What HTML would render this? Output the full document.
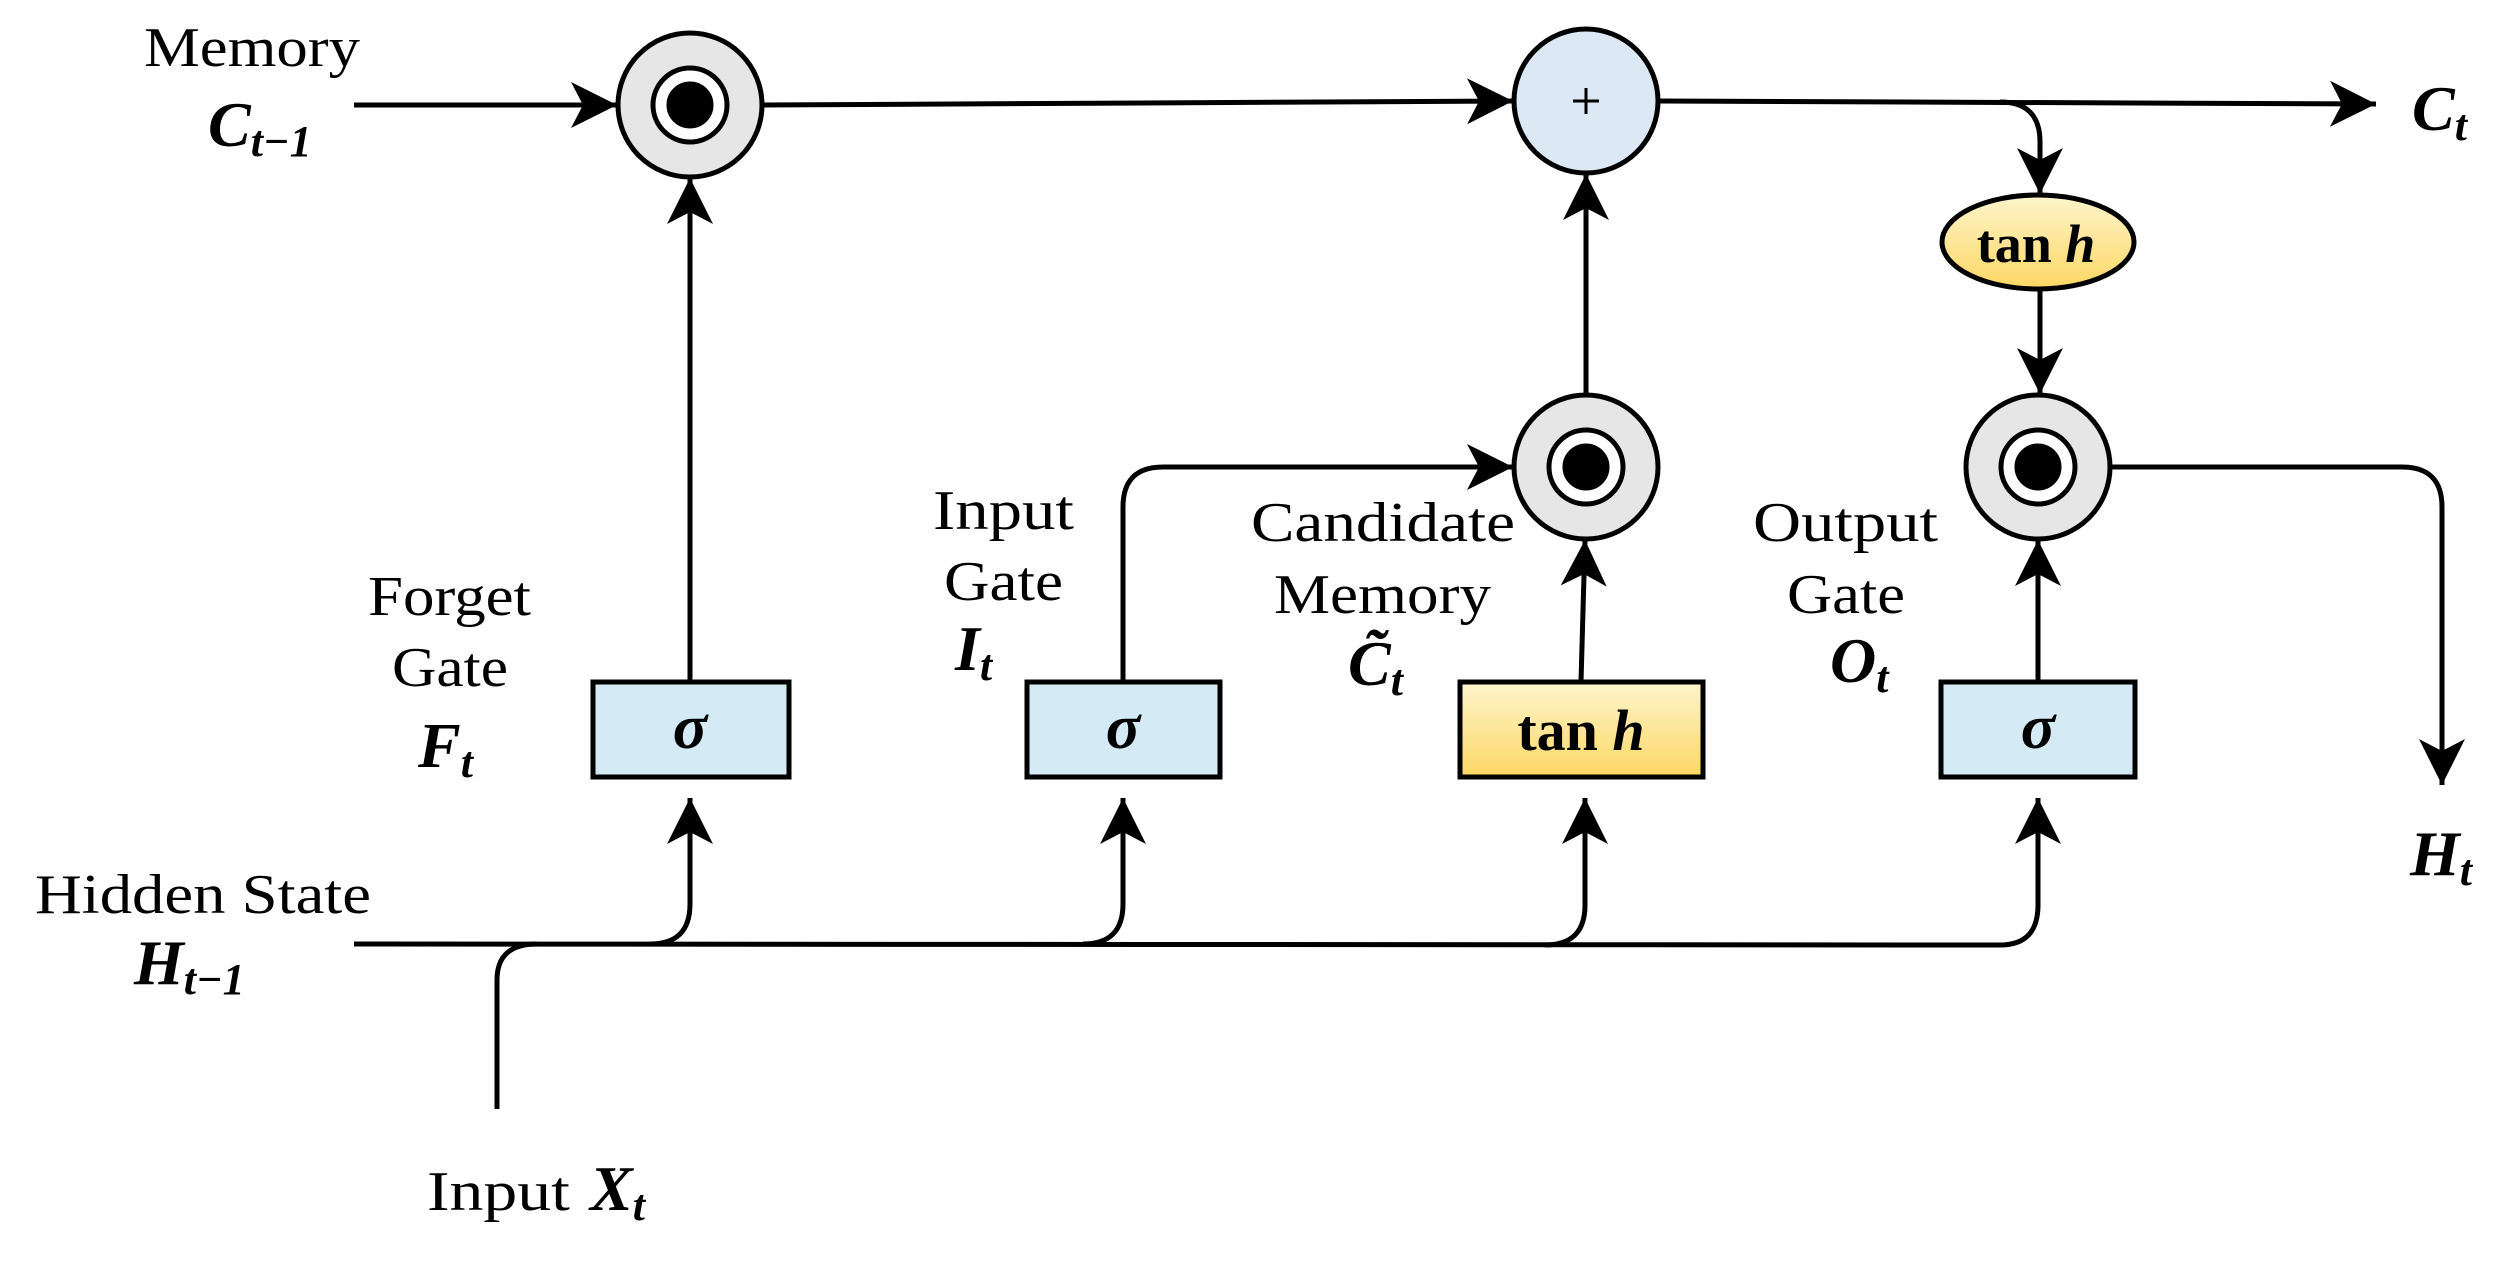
<!DOCTYPE html>
<html><head><meta charset="utf-8"><style>
html,body{margin:0;padding:0;background:#fff;}
svg{display:block;}
text{font-family:"Liberation Serif",serif;fill:#000;}
.lbl{font-size:56px;}
.m{font-size:64px;font-style:italic;font-weight:bold;}
.s{font-size:44px;font-style:italic;font-weight:bold;}
</style></head><body>
<svg width="2506" height="1266" viewBox="0 0 2506 1266" xmlns="http://www.w3.org/2000/svg">
<defs>
<marker id="a" markerUnits="userSpaceOnUse" markerWidth="60" markerHeight="60" viewBox="-50 -30 60 60" refX="0" refY="0" orient="auto">
<path d="M0,0 L-46,-23 L-34,0 L-46,23 Z" fill="#000"/>
</marker>
<linearGradient id="y" x1="0" y1="0" x2="0" y2="1"><stop offset="0" stop-color="#fef5cc"/><stop offset="1" stop-color="#fcd763"/></linearGradient>
</defs>
<g fill="none" stroke="#000" stroke-width="5">
<path d="M354,105 L617,105" marker-end="url(#a)"/>
<path d="M762,105 L1513,101" marker-end="url(#a)"/>
<path d="M1659,101 L2376,104" marker-end="url(#a)"/>
<path d="M2000,102 Q2040,102 2040,142 L2040,194" marker-end="url(#a)"/>
<path d="M2040,290 L2040,394" marker-end="url(#a)"/>
<path d="M690,682 L690,178" marker-end="url(#a)"/>
<path d="M354,944 L2000,945 Q2038,945 2038,905 L2038,798" marker-end="url(#a)"/>
<path d="M650,944 Q690,944 690,904 L690,798" marker-end="url(#a)"/>
<path d="M1083,944 Q1123,944 1123,904 L1123,798" marker-end="url(#a)"/>
<path d="M1545,945 Q1585,945 1585,905 L1585,798" marker-end="url(#a)"/>
<path d="M497,1109 L497,980 Q497,944 537,944"/>
<path d="M1123,682 L1123,507 Q1123,467 1163,467 L1513,467" marker-end="url(#a)"/>
<path d="M1586,395 L1586,174" marker-end="url(#a)"/>
<path d="M1581,682 L1585,540" marker-end="url(#a)"/>
<path d="M2038,682 L2038,540" marker-end="url(#a)"/>
<path d="M2111,467 L2402,467 Q2442,467 2442,507 L2442,785" marker-end="url(#a)"/>
</g>
<g stroke="#000" stroke-width="5">
<circle cx="690" cy="105" r="72" fill="#e6e6e7"/>
<circle cx="690" cy="105" r="37" fill="#fff"/>
<circle cx="690" cy="105" r="21" fill="#000"/>
<circle cx="1586" cy="101" r="72" fill="#dce9f5"/>
<circle cx="1586" cy="467" r="72" fill="#e6e6e7"/>
<circle cx="1586" cy="467" r="37" fill="#fff"/>
<circle cx="1586" cy="467" r="21" fill="#000"/>
<circle cx="2038" cy="467" r="72" fill="#e6e6e7"/>
<circle cx="2038" cy="467" r="37" fill="#fff"/>
<circle cx="2038" cy="467" r="21" fill="#000"/>
<ellipse cx="2038" cy="242" rx="96" ry="47" fill="url(#y)"/>
<rect x="593" y="682" width="196" height="95" fill="#d4ebf5"/>
<rect x="1027" y="682" width="193" height="95" fill="#d4ebf5"/>
<rect x="1460" y="682" width="243" height="95" fill="url(#y)"/>
<rect x="1941" y="682" width="194" height="95" fill="#d4ebf5"/>
</g>
<path d="M1586,88 L1586,114 M1573,101 L1599,101" stroke="#000" stroke-width="3"/>
<text x="690" y="748" text-anchor="middle" class="m">σ</text>
<text x="1123" y="748" text-anchor="middle" class="m">σ</text>
<text x="2038" y="748" text-anchor="middle" class="m">σ</text>
<text x="1581" y="750" text-anchor="middle" style="font-size:58px;font-weight:bold">tan <tspan font-style="italic">h</tspan></text>
<text x="2036" y="262" text-anchor="middle" style="font-size:54px;font-weight:bold">tan <tspan font-style="italic">h</tspan></text>
<text x="144" y="66" class="lbl" textLength="216" lengthAdjust="spacingAndGlyphs">Memory</text>
<text x="208" y="146" class="m">C<tspan class="s" dy="10">t−1</tspan></text>
<text x="368" y="615" class="lbl" textLength="163" lengthAdjust="spacingAndGlyphs">Forget</text>
<text x="392" y="686" class="lbl" textLength="116" lengthAdjust="spacingAndGlyphs">Gate</text>
<text x="418" y="767" class="m">F<tspan class="s" dy="10">t</tspan></text>
<text x="933" y="529" class="lbl" textLength="141" lengthAdjust="spacingAndGlyphs">Input</text>
<text x="944" y="600" class="lbl" textLength="119" lengthAdjust="spacingAndGlyphs">Gate</text>
<text x="955" y="670" class="m">I<tspan class="s" dy="10">t</tspan></text>
<text x="1251" y="541" class="lbl" textLength="264" lengthAdjust="spacingAndGlyphs">Candidate</text>
<text x="1274" y="613" class="lbl" textLength="217" lengthAdjust="spacingAndGlyphs">Memory</text>
<text x="1348" y="685" class="m">C̃<tspan class="s" dy="10">t</tspan></text>
<text x="1753" y="541" class="lbl" textLength="185" lengthAdjust="spacingAndGlyphs">Output</text>
<text x="1787" y="613" class="lbl" textLength="118" lengthAdjust="spacingAndGlyphs">Gate</text>
<text x="1830" y="682" class="m">O<tspan class="s" dy="10">t</tspan></text>
<text x="35" y="913" class="lbl" textLength="336" lengthAdjust="spacingAndGlyphs">Hidden State</text>
<text x="134" y="984" class="m">H<tspan class="s" dy="10">t−1</tspan></text>
<text x="427" y="1210" class="lbl" textLength="143" lengthAdjust="spacingAndGlyphs">Input</text>
<text x="590" y="1210" class="m">X<tspan class="s" dy="10">t</tspan></text>
<text x="2412" y="130" class="m">C<tspan class="s" dy="10">t</tspan></text>
<text x="2410" y="875" class="m">H<tspan class="s" dy="10">t</tspan></text>
</svg>
</body></html>
